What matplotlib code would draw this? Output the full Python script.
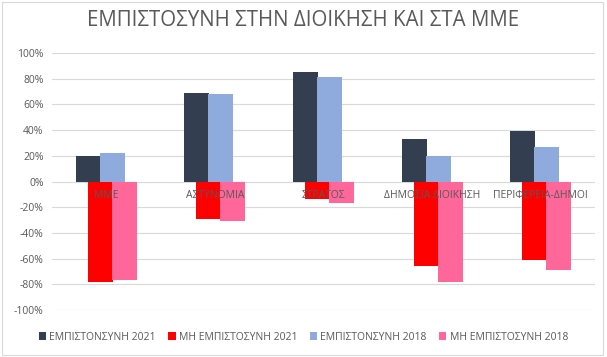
import matplotlib
matplotlib.use("Agg")
import matplotlib.pyplot as plt
import numpy as np
from matplotlib.patches import Rectangle, Patch

plt.rcParams['font.family'] = ['Open Sans', 'DejaVu Sans']

categories = ["ΜΜΕ", "ΑΣΤΥΝΟΜΙΑ", "ΣΤΡΑΤΟΣ", "ΔΗΜΟΣΙΑ ΔΙΟΙΚΗΣΗ", "ΠΕΡΙΦΕΡΕΙΑ-ΔΗΜΟΙ"]
trust_2021 = [20, 69, 85, 33, 39]
distrust_2021 = [-78, -29, -14, -66, -61]
trust_2018 = [22, 68, 81, 20, 27]
distrust_2018 = [-77, -31, -17, -78, -69]
series_names = ["ΕΜΠΙΣΤΟΝΣΥΝΗ 2021", "ΜΗ ΕΜΠΙΣΤΟΣΥΝΗ 2021", "ΕΜΠΙΣΤΟΝΣΥΝΗ 2018", "ΜΗ ΕΜΠΙΣΤΟΣΥΝΗ 2018"]
colors = ["#333F50", "#FF0000", "#8FAADC", "#FF6699"]
yticks = [100, 80, 60, 40, 20, 0, -20, -40, -60, -80, -100]
title = "ΕΜΠΙΣΤΟΣΥΝΗ ΣΤΗΝ ΔΙΟΙΚΗΣΗ ΚΑΙ ΣΤΑ ΜΜΕ"

fig = plt.figure(figsize=(6.07, 3.57), dpi=100)
ax = fig.add_axes([52/607, 47/357, 543/607, 257/357])

x = np.arange(len(categories))
width = 0.23
offsets = [-0.166, -0.055, 0.055, 0.166]
data = [trust_2021, distrust_2021, trust_2018, distrust_2018]
for vals, off, c, name in zip(data, offsets, colors, series_names):
    ax.bar(x + off, vals, width=width, color=c, label=name, zorder=3)

ax.set_xlim(-0.5, len(categories) - 0.5)
ax.set_ylim(-100, 100)
ax.set_yticks(yticks)
ax.set_yticklabels([f"{v}%" for v in yticks], fontsize=7.5, color="#595959")
ax.set_xticks([])
ax.tick_params(axis='y', length=0, pad=6)
ax.grid(axis='y', color="#D9D9D9", linewidth=0.8, zorder=0)
for s in ax.spines.values():
    s.set_visible(False)

for i, cat in enumerate(categories):
    ax.annotate(cat, (i, 0), xytext=(0, -14), textcoords='offset pixels',
                ha='center', va='center', fontsize=7.5, color="#595959", zorder=4)

fig.text(0.5, 1 - 21/357, title, ha='center', va='center', fontsize=14.8, color="#595959")

handles = [Patch(facecolor=c, edgecolor='none') for c in colors]
fig.legend(handles, series_names, loc='center', bbox_to_anchor=(0.5, 1 - 337/357), ncol=4,
           frameon=False, fontsize=7.5, handlelength=0.7, handleheight=0.7, handletextpad=0.3,
           columnspacing=1.2, labelcolor="#595959")

fig.patches.append(Rectangle((2/607, 2/357), 601/607, 353/357, transform=fig.transFigure,
                             fill=False, edgecolor="#D9D9D9", linewidth=0.8))

fig.savefig("out.png", dpi=100, facecolor="white")
